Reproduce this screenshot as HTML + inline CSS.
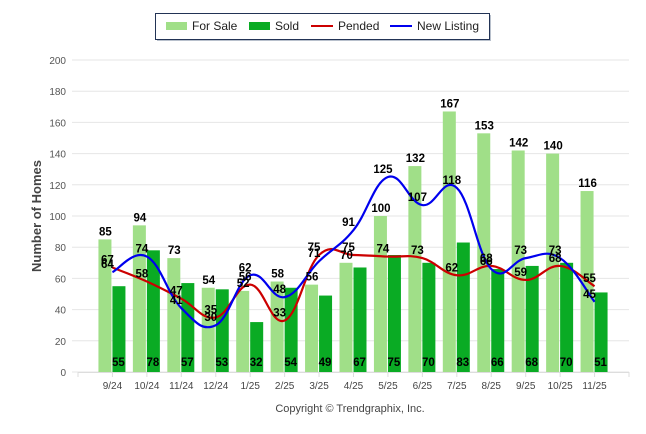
<!DOCTYPE html>
<html><head><meta charset="utf-8"><style>
body{margin:0;background:#fff;}
svg{display:block;font-family:"Liberation Sans",Arial,sans-serif;}
</style></head><body>
<svg id="c" width="646" height="434"></svg>
<script>
const categories=["9/24","10/24","11/24","12/24","1/25","2/25","3/25","4/25","5/25","6/25","7/25","8/25","9/25","10/25","11/25"];
const forSale=[85,94,73,54,52,58,56,70,100,132,167,153,142,140,116];
const sold=[55,78,57,53,32,54,49,67,75,70,83,66,68,70,51];
const pended=[67,58,47,35,56,33,75,75,74,73,62,68,59,68,55];
const newListing=[64,74,41,30,62,48,71,91,125,107,118,66,73,73,45];
const yTicks=[0,20,40,60,80,100,120,140,160,180,200];
const NS="http://www.w3.org/2000/svg";
const svg=document.getElementById('c');
const X0=78,X1=629,Y0=372,Y1=60;
const step=(X1-X0)/16;
function xs(i){return X0+step*(i+1);}
function ys(v){return Y0-(v/200)*(Y0-Y1);}
function mk(t,a,p){const e=document.createElementNS(NS,t);for(const k in a)e.setAttribute(k,a[k]);(p||svg).appendChild(e);return e;}
yTicks.forEach(v=>{
 const g=mk('line',{x1:72,x2:X1,y1:ys(v),y2:ys(v),stroke:'#e6e6e6','stroke-width':1});
 
 
 const t=mk('text',{x:66,y:ys(v)+4,'text-anchor':'end','font-size':10,fill:'#555'});
 t.textContent=v;
 
 
});
const yt=mk('text',{x:0,y:0,transform:'translate(41,216) rotate(-90)','text-anchor':'middle','font-size':13,'font-weight':'bold',fill:'#444'});
yt.textContent='Number of Homes';


const ax=mk('line',{x1:X0,x2:X1,y1:Y0+0.5,y2:Y0+0.5,stroke:'#ddd'});


[X0,X1].concat(categories.map((c,i)=>xs(i))).forEach(x=>{mk('line',{x1:x,x2:x,y1:Y0,y2:Y0+5,stroke:'#ddd'});});
categories.forEach((c,i)=>{
 const t=mk('text',{x:xs(i),y:389,'text-anchor':'middle','font-size':10,fill:'#444'});
 t.textContent=c;
 
 
});
categories.forEach((c,i)=>{
 const x=xs(i);
 const b1=mk('rect',{x:x-14,y:ys(forSale[i]),width:13,height:Y0-ys(forSale[i]),fill:'#a0df88'});
 
 
 const b2=mk('rect',{x:x,y:ys(sold[i]),width:13,height:Y0-ys(sold[i]),fill:'#0aab24'});
 
 
});
function spline(vals){
 const p=vals.map((v,i)=>[xs(i),ys(v)]);let d='M'+p[0][0]+','+p[0][1];
 for(let i=0;i<p.length-1;i++){
  const p0=p[i-1]||p[i],p1=p[i],p2=p[i+1],p3=p[i+2]||p2,t=0.2;
  const c1=[p1[0]+(p2[0]-p0[0])*t,p1[1]+(p2[1]-p0[1])*t];
  const c2=[p2[0]-(p3[0]-p1[0])*t,p2[1]-(p3[1]-p1[1])*t];
  d+=' C'+c1+' '+c2+' '+p2;
 }return d;}
const lp=mk('path',{d:spline(pended),fill:'none',stroke:'#cc0000','stroke-width':2.2});


const ln=mk('path',{d:spline(newListing),fill:'none',stroke:'#0000ee','stroke-width':2.2});


function lab(x,y,s){const t=mk('text',{x:x,y:y,'text-anchor':'middle','font-size':11.5,'font-weight':'bold',fill:'#000'});t.textContent=s;}
categories.forEach((c,i)=>{
 const x=xs(i);
 lab(x-7,ys(forSale[i])-4,forSale[i]);
 lab(x+6,366,sold[i]);
 lab(x-5,ys(pended[i])-4,pended[i]);
 lab(x-5,ys(newListing[i])-4,newListing[i]);
});
const lg=mk('g',{});


mk('rect',{x:157,y:15,width:334,height:26,fill:'#b8c0cc'},lg);
mk('rect',{x:155.5,y:13.5,width:334,height:26,fill:'#fff',stroke:'#223355'},lg);
const items=[['For Sale','#a0df88','rect',166,192],['Sold','#0aab24','rect',249,275],['Pended','#cc0000','line',311,338],['New Listing','#0000ee','line',390,417]];
items.forEach(it=>{
 const g=mk('g',{},lg);
 
 
 if(it[2]=='rect')mk('rect',{x:it[3],y:22,width:21,height:8,fill:it[1]},g);
 else mk('line',{x1:it[3],x2:it[3]+22,y1:26,y2:26,stroke:it[1],'stroke-width':2},g);
 const t=mk('text',{x:it[4],y:30,'font-size':12,fill:'#222'},g);t.textContent=it[0];
});
const cp=mk('text',{x:350,y:412,'text-anchor':'middle','font-size':11,fill:'#444'});
cp.textContent='Copyright © Trendgraphix, Inc.';


</script>
</body></html>
